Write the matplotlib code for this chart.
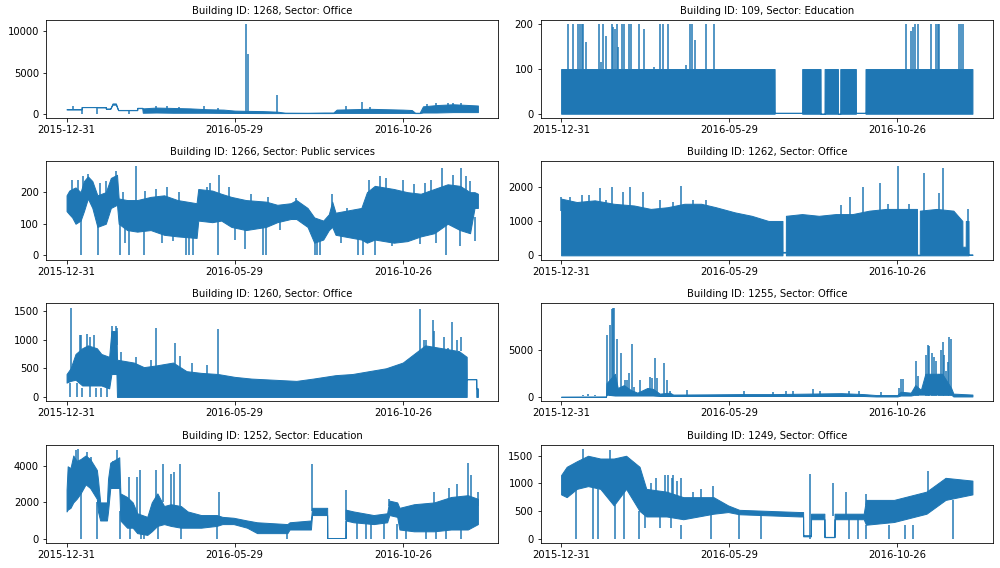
import matplotlib.pyplot as plt

# Hourly meter readings of eight buildings over 2016, read off the picture as
# envelopes (low / high) between knot days plus single spikes and dips.
tick_days = [0, 150, 300]
tick_labels = ["2015-12-31", "2016-05-29", "2016-10-26"]

building_ids = ["1268", "109", "1266", "1262", "1260", "1255", "1252", "1249"]
sectors = ["Office", "Education", "Public services", "Office",
           "Office", "Office", "Education", "Office"]

# --- 1268, Office
b1268_day = [0, 13.4, 13.5, 27.4, 27.5, 35, 35.1, 39, 41, 44, 46, 63, 63.1, 67.5, 68, 80, 95, 110,
             125, 140, 150, 160, 175, 188, 195, 215, 230, 238, 241, 255, 270, 285, 300, 308, 311,
             315, 318, 330, 345, 360, 367]
b1268_lo = [520, 520, 800, 800, 780, 780, 600, 600, 1100, 1100, 430, 430, 680, 680, 120, 150, 120,
            120, 120, 100, 90, 90, 80, 80, 80, 80, 80, 80, 100, 100, 100, 100, 100, 100, 80,
            80, 150, 150, 200, 200, 200]
b1268_hi = [560, 560, 820, 820, 800, 800, 620, 620, 1250, 1250, 460, 460, 720, 720, 650, 750, 700,
            650, 550, 500, 380, 350, 320, 250, 130, 120, 150, 150, 500, 550, 600, 550, 500, 450, 120,
            120, 900, 1050, 1150, 1050, 1000]
b1268_ev_day = [6, 13.4, 27.4, 55.7, 79.5, 122.6, 159.8, 162.2, 188, 249, 264, 271, 322, 340, 352,
                90, 100, 135, 330, 345]
b1268_ev_lo = [520, 0, 0, 0, 300, 300, 200, 200, 150, 300, 300, 300, 500, 500, 500,
               400, 400, 300, 600, 600]
b1268_ev_hi = [1000, 520, 800, 440, 900, 1000, 10850, 7300, 2250, 1000, 1400, 800, 1150, 1250, 1300,
               900, 850, 700, 1250, 1300]

# --- 109, Education
b109_day = [0, 190.5, 190.6, 215, 215.1, 231.5, 231.6, 235, 235.1, 247, 247.1, 249, 249.1, 263,
            263.1, 271.5, 271.6, 367]
b109_lo = [0, 0, 2, 2, 0, 0, 0, 0, 0, 0, 0, 0, 0, 0, 2, 2, 0, 0]
b109_hi = [100, 100, 2, 2, 100, 100, 0, 0, 100, 100, 0, 0, 100, 100, 2, 2, 100, 100]
b109_ev_day = [5.9, 10.4, 14.8, 16.9, 19, 19.9, 22, 33.8, 35.3, 37.7, 39.8, 45.1, 46.6,
               48.1, 49.6, 51, 54.6, 56.1, 60.8, 62.3, 69.7, 73.9, 82.8, 88.1, 91.1, 95.5,
               111, 115.4, 117.2, 119.9, 129.7, 136.5, 307.7, 312.2, 314.2, 316, 318.1,
               330, 334.4, 335.9, 337.4, 354.6, 356.7, 358.8]
b109_ev_lo = 100
b109_ev_hi = [200, 200, 200, 200, 200, 200, 160, 200, 115, 200, 175, 200, 195,
              190, 200, 150, 200, 200, 200, 200, 200, 190, 105, 200, 200, 200,
              110, 200, 200, 165, 200, 200, 200, 185, 195, 200, 200,
              200, 200, 200, 200, 200, 200, 200]

# --- 1266, Public services
b1266_day = [0, 2.4, 5, 8, 12.5, 15.5, 19, 23, 27.5, 35, 39.5, 45, 46.5, 54, 63, 75, 87, 99, 116,
             117.5, 130, 138, 147, 160, 178, 188, 200, 205, 215, 221, 229, 234, 237, 240, 263,
             268, 275, 292, 304, 316, 328, 340, 351, 360, 364, 367]
b1266_lo = [140, 130, 120, 100, 110, 140, 180, 150, 90, 100, 150, 160, 100, 80, 75, 80, 65, 60, 55,
            110, 105, 110, 90, 80, 90, 105, 115, 115, 90, 40, 50, 80, 90, 65, 50,
            40, 50, 40, 45, 60, 70, 100, 80, 70, 150, 150]
b1266_hi = [190, 205, 210, 215, 200, 235, 250, 235, 190, 200, 245, 255, 180, 175, 175, 185, 190, 175,
            165, 210, 205, 195, 185, 175, 170, 160, 165, 175, 150, 120, 110, 130, 170, 135, 150,
            200, 220, 210, 200, 195, 210, 225, 220, 200, 200, 195]
b1266_ev_day = [5, 19, 35, 44, 61.6, 136, 236.6, 280, 285, 335, 352, 356, 30, 80, 125, 180,
                300, 320, 10, 15, 50, 70, 90, 100, 128, 145, 165, 205, 250, 270, 310, 325, 345,
                360, 13, 28, 47.6, 56, 69, 107, 109, 112.5, 135, 159.2, 175, 177.7,
                221.7, 223.8, 226, 260, 264.6, 275, 338.4, 351, 364.6,
                52, 85, 95, 150, 190, 245, 290, 315, 330]
b1266_ev_lo = [200, 220, 190, 230, 150, 180, 140, 200, 200, 190, 210, 200, 180, 160, 180, 150,
               180, 180, 180, 200, 150, 150, 150, 150, 180, 170, 150, 140, 110, 180, 180, 190,
               200, 190, 0, 0, 0, 0, 0, 0, 0, 0, 0, 20, 0, 0,
               0, 0, 0, 0, 0, 0, 0, 30, 45,
               40, 40, 45, 50, 80, 40, 30, 35, 40]
b1266_ev_hi = [240, 258, 235, 268, 283, 255, 195, 250, 245, 277, 277, 252, 230, 210, 215, 185,
               240, 230, 240, 250, 200, 205, 215, 200, 230, 215, 195, 180, 150, 240, 225, 240,
               255, 235, 130, 120, 100, 100, 90, 80, 80, 90, 120, 110, 100, 100,
               60, 60, 60, 80, 80, 70, 120, 110, 120,
               100, 100, 100, 110, 120, 80, 70, 80, 90]

# --- 1262, Office
b1262_day = [0, 14, 30, 47, 65, 80, 95, 110, 125, 138, 155, 170, 185, 197.5, 197.6, 200.5, 200.6,
             215, 230, 245, 260, 275, 290, 305, 317.5, 317.6, 320, 320.1, 335, 350, 358, 358.1,
             361, 361.1, 363.5, 363.6, 367]
b1262_lo = [0, 0, 0, 0, 0, 0, 0, 0, 0, 0, 0, 0, 0, 0, 80, 80, 0,
            0, 0, 0, 0, 0, 0, 0, 0, 0, 0, 0, 0, 0, 0, 0,
            0, 0, 0, 20, 20]
b1262_hi = [1650, 1550, 1600, 1500, 1450, 1350, 1400, 1500, 1500, 1400, 1250, 1150, 1000, 1000, 100,
            100, 1150, 1200, 1150, 1200, 1200, 1300, 1350, 1350, 1350, 20, 20, 1300, 1350, 1300,
            1000, 250, 250, 1000, 1000, 20, 20]
b1262_ev_day = [0, 18.4, 34.7, 45.4, 61.4, 73.3, 107.4, 129.7, 269.1, 284.9, 300.9,
                323.4, 337.4, 340.4, 363, 8, 25, 40, 55, 88, 100, 118, 250, 258, 292, 310]
b1262_ev_lo = [1300, 1300, 1300, 1300, 1300, 1200, 1300, 1300, 1100, 1200, 1200,
               1200, 1200, 1200, 900, 1300, 1300, 1300, 1300, 1200, 1200, 1300, 1100, 1100,
               1200, 1200]
b1262_ev_hi = [1700, 1750, 1950, 2000, 2000, 1850, 2020, 1600, 2000, 2100, 2600,
               2400, 1800, 2550, 1350, 1700, 1750, 1600, 1850, 1600, 1550, 1600, 1450, 1700,
               1500, 1500]

# --- 1260, Office
b1260_day = [0, 3.6, 8, 14, 19, 27, 31, 38, 40, 44.5, 45, 60, 69, 80, 95, 107, 120, 135, 150,
             165, 185, 205, 220, 240, 255, 270, 285, 300, 310, 320, 335, 350, 357, 357.1, 365.5,
             365.6, 367]
b1260_lo = [250, 280, 300, 200, 200, 200, 200, 150, 400, 400, 0, 0, 0, 0, 0, 0, 0, 0, 0,
            0, 0, 0, 0, 0, 0, 0, 0, 0, 0, 0, 0, 0, 0, 310, 310,
            0, 0]
b1260_hi = [400, 500, 750, 850, 900, 850, 750, 700, 1150, 1150, 650, 600, 520, 550, 600, 450, 420,
            400, 350, 320, 300, 280, 320, 380, 400, 450, 500, 600, 750, 900, 850, 800, 700, 310,
            310, 150, 150]
b1260_ev_day = [4.2, 11.6, 13, 17.9, 20.8, 24.4, 27.4, 33.3, 40.8, 43.75, 45.2, 48.8, 80,
                96.4, 100.9, 135.4, 315.2, 319, 320.5, 326.5, 328, 337, 340.5, 344.3,
                348.8, 351.8, 62, 75, 112, 125, 2.7, 9.5, 14, 20.8, 25.9, 30.4, 36.3]
b1260_ev_lo = [400, 600, 600, 700, 700, 700, 600, 600, 900, 900, 900, 600, 500,
               500, 500, 400, 600, 700, 700, 800, 800, 800, 800, 800,
               800, 800, 500, 500, 400, 400, 0, 0, 0, 0, 0, 0, 0]
b1260_ev_hi = [1560, 1080, 1080, 1100, 1050, 1080, 800, 700, 1230, 1230, 1200, 780, 1200,
               950, 720, 1190, 1530, 1000, 1000, 1350, 1150, 1050, 850, 1300,
               1000, 1050, 700, 650, 600, 560, 250, 250, 150, 200, 150, 150, 300]

# --- 1255, Office
b1255_day = [0, 40, 40.5, 48, 50.5, 56, 62, 68, 77, 82, 88, 97, 100, 130, 160, 190, 220, 250,
             270, 281, 300, 303, 312, 316, 321, 325, 340, 348, 350, 367]
b1255_lo = [50, 50, 300, 200, 200, 200, 200, 200, 200, 200, 150, 150, 150, 150, 150, 150, 150,
            150, 150, 100, 100, 200, 200, 300, 300, 300, 300, 300, 100, 100]
b1255_hi = [80, 100, 1500, 2500, 1000, 1300, 800, 500, 1000, 900, 400, 500, 300, 320, 350, 350,
            400, 450, 350, 250, 250, 600, 500, 1300, 800, 2500, 2500, 1000, 400, 300]
b1255_ev_day = [19.9, 24.3, 30.3, 40.7, 43.6, 45.1, 46.6, 47.5, 50.1, 53.1, 57, 59, 60.5,
                63.2, 65, 70.3, 79.2, 81.3, 83.7, 85.8, 92, 94.1, 97, 111.9, 163.2, 189,
                201, 206.8, 224.6, 230.6, 257.3, 266.2, 285.5, 301.8, 303.3, 304.7,
                316.6, 318.1, 325.5, 327, 328.5, 330.6, 333, 334.4, 337.4, 338.9,
                340.4, 341.8, 343.3, 344.8, 346.3, 347.8]
b1255_ev_lo = 200
b1255_ev_hi = [300, 350, 300, 6600, 7700, 9300, 9500, 9500, 6200, 4700, 1800, 1800, 2600,
               5600, 1100, 1800, 2200, 2100, 4200, 2000, 3600, 1800, 700, 750, 700, 600,
               650, 700, 900, 700, 700, 700, 600, 1000, 1900, 1900,
               3800, 2300, 4500, 5500, 5400, 4700, 4300, 3800, 2500, 5000,
               5900, 4500, 2800, 3700, 6400, 6200]

# --- 1252, Education
b1252_day = [0, 1, 3.5, 6, 9, 12.5, 17, 21, 27, 28, 30, 36, 37, 39, 47, 48, 54, 59, 63, 72, 76,
             81, 87, 93, 102, 108, 120, 134, 139, 149, 161, 170, 197, 199, 218, 219, 232.5, 232.6,
             248.9, 249, 256, 274, 286, 288, 295, 297, 310, 328, 343, 358, 367]
b1252_lo = [1500, 1600, 1700, 2000, 2200, 2500, 3000, 2800, 2200, 1500, 1000, 1000, 1500, 2800,
            2800, 1000, 600, 600, 300, 200, 400, 700, 800, 700, 600, 600, 600, 700, 800, 800, 600,
            300, 300, 500, 500, 1300, 1300, 30, 30, 1000, 900, 800, 900, 1300, 1200, 500, 400,
            400, 500, 500, 800]
b1252_hi = [2700, 4000, 3900, 4600, 4300, 4400, 4600, 4400, 3800, 3300, 2000, 2000, 3300, 4200,
            4500, 2500, 2300, 2000, 1400, 1200, 2000, 2500, 1800, 1900, 1800, 1500, 1300, 1300, 1200,
            1150, 1000, 900, 800, 900, 1000, 1700, 1700, 30, 30, 1600, 1500, 1300, 1400, 2100,
            2000, 1700, 1900, 2000, 2300, 2400, 2200]
b1252_ev_day = [8.6, 10, 17.9, 22, 41, 44.6, 55.7, 63, 65.5, 79.5, 86, 92.9, 95.8, 101,
                136, 219.3, 249.7, 287.8, 328, 341.4, 348.8, 358.6, 360.7, 366.7,
                12.5, 27.4, 47.6, 57, 66, 69, 82, 102, 134.5, 197, 259.5, 267, 271.4,
                283, 295.2, 302.7, 320.5, 329.5, 338.4, 351.8]
b1252_ev_lo = [3500, 3500, 3500, 3500, 3000, 3500, 1500, 1200, 1200, 2000, 2000, 1800, 1800, 1800,
               1000, 1500, 1000, 1800, 1800, 1800, 1800, 2000, 2000, 1800,
               0, 0, 0, 0, 0, 0, 0, 0, 0, 0, 0, 0, 0,
               0, 0, 0, 0, 0, 0, 0]
b1252_ev_hi = [4900, 4950, 4800, 4500, 4300, 4900, 3400, 3400, 3800, 3800, 4100, 3600, 3700, 4100,
               2600, 4100, 2700, 2200, 2600, 2800, 3000, 4200, 3500, 2600,
               2500, 2000, 1500, 800, 600, 600, 800, 800, 900, 600, 1000, 1000, 1000,
               1000, 800, 600, 700, 800, 800, 900]

# --- 1249, Office
b1249_day = [0, 5, 14, 24, 35, 47, 58, 70, 76, 94, 109, 136, 149, 159, 213, 215.9, 216, 222.9,
             223, 234.9, 235, 243.9, 244, 270, 272, 297, 326, 343, 367]
b1249_lo = [800, 750, 900, 950, 900, 600, 900, 500, 400, 400, 350, 450, 480, 440, 400, 400, 40,
            40, 350, 350, 25, 25, 350, 350, 250, 300, 450, 700, 800]
b1249_hi = [1150, 1300, 1400, 1500, 1450, 1450, 1500, 1300, 900, 850, 750, 750, 600, 520, 480,
            480, 60, 60, 450, 450, 30, 30, 450, 450, 700, 700, 850, 1100, 1050]
b1249_ev_day = [19.9, 43.6, 135.6, 221.7, 243, 254.3, 272, 327, 80, 85, 92.6, 95.5, 98.5,
                100, 103, 107.4, 118, 125,
                13.4, 28.8, 33.2, 48, 56, 69.7, 107.4, 134, 158.8, 178.6, 222.5, 257.3,
                264.7, 272.1, 292.9, 307.1, 313.6, 349.9, 75, 88, 98]
b1249_ev_lo = [1400, 1400, 700, 350, 400, 400, 600, 800, 700, 700, 700, 700, 700,
               700, 700, 700, 600, 600,
               0, 0, 0, 0, 0, 0, 0, 0, 0, 0, 0, 0,
               0, 0, 0, 0, 0, 0, 200, 200, 200]
b1249_ev_hi = [1620, 1610, 950, 1170, 1000, 850, 800, 1230, 1000, 1100, 1150, 1150, 1100,
               1150, 1050, 1100, 850, 900,
               900, 950, 900, 600, 900, 500, 250, 450, 440, 440, 350, 350,
               350, 250, 250, 250, 250, 700, 450, 450, 450]

series = [
    (b1268_day, b1268_lo, b1268_hi, b1268_ev_day, b1268_ev_lo, b1268_ev_hi),
    (b109_day, b109_lo, b109_hi, b109_ev_day, b109_ev_lo, b109_ev_hi),
    (b1266_day, b1266_lo, b1266_hi, b1266_ev_day, b1266_ev_lo, b1266_ev_hi),
    (b1262_day, b1262_lo, b1262_hi, b1262_ev_day, b1262_ev_lo, b1262_ev_hi),
    (b1260_day, b1260_lo, b1260_hi, b1260_ev_day, b1260_ev_lo, b1260_ev_hi),
    (b1255_day, b1255_lo, b1255_hi, b1255_ev_day, b1255_ev_lo, b1255_ev_hi),
    (b1252_day, b1252_lo, b1252_hi, b1252_ev_day, b1252_ev_lo, b1252_ev_hi),
    (b1249_day, b1249_lo, b1249_hi, b1249_ev_day, b1249_ev_lo, b1249_ev_hi),
]

fig, axes = plt.subplots(4, 2, figsize=(1000 / 72, 568 / 72), dpi=72)
fig.subplots_adjust(left=0.046, right=0.993, bottom=0.044, top=0.965,
                    wspace=0.093, hspace=0.44)

for ax, bid, sector, (day, lo, hi, ev_day, ev_lo, ev_hi) in zip(axes.flat, building_ids, sectors, series):
    # dense hourly trace -> filled band between daily lows and highs
    ax.fill_between(day, lo, hi, color="C0", lw=1.0)
    # isolated peaks / drops
    ax.vlines(ev_day, ev_lo, ev_hi, color="C0", lw=1.5)
    ax.set_title(f"Building ID: {bid}, Sector: {sector}", fontsize=10)
    ax.set_xticks(tick_days)
    ax.set_xticklabels(tick_labels)

fig.savefig("out.png")
